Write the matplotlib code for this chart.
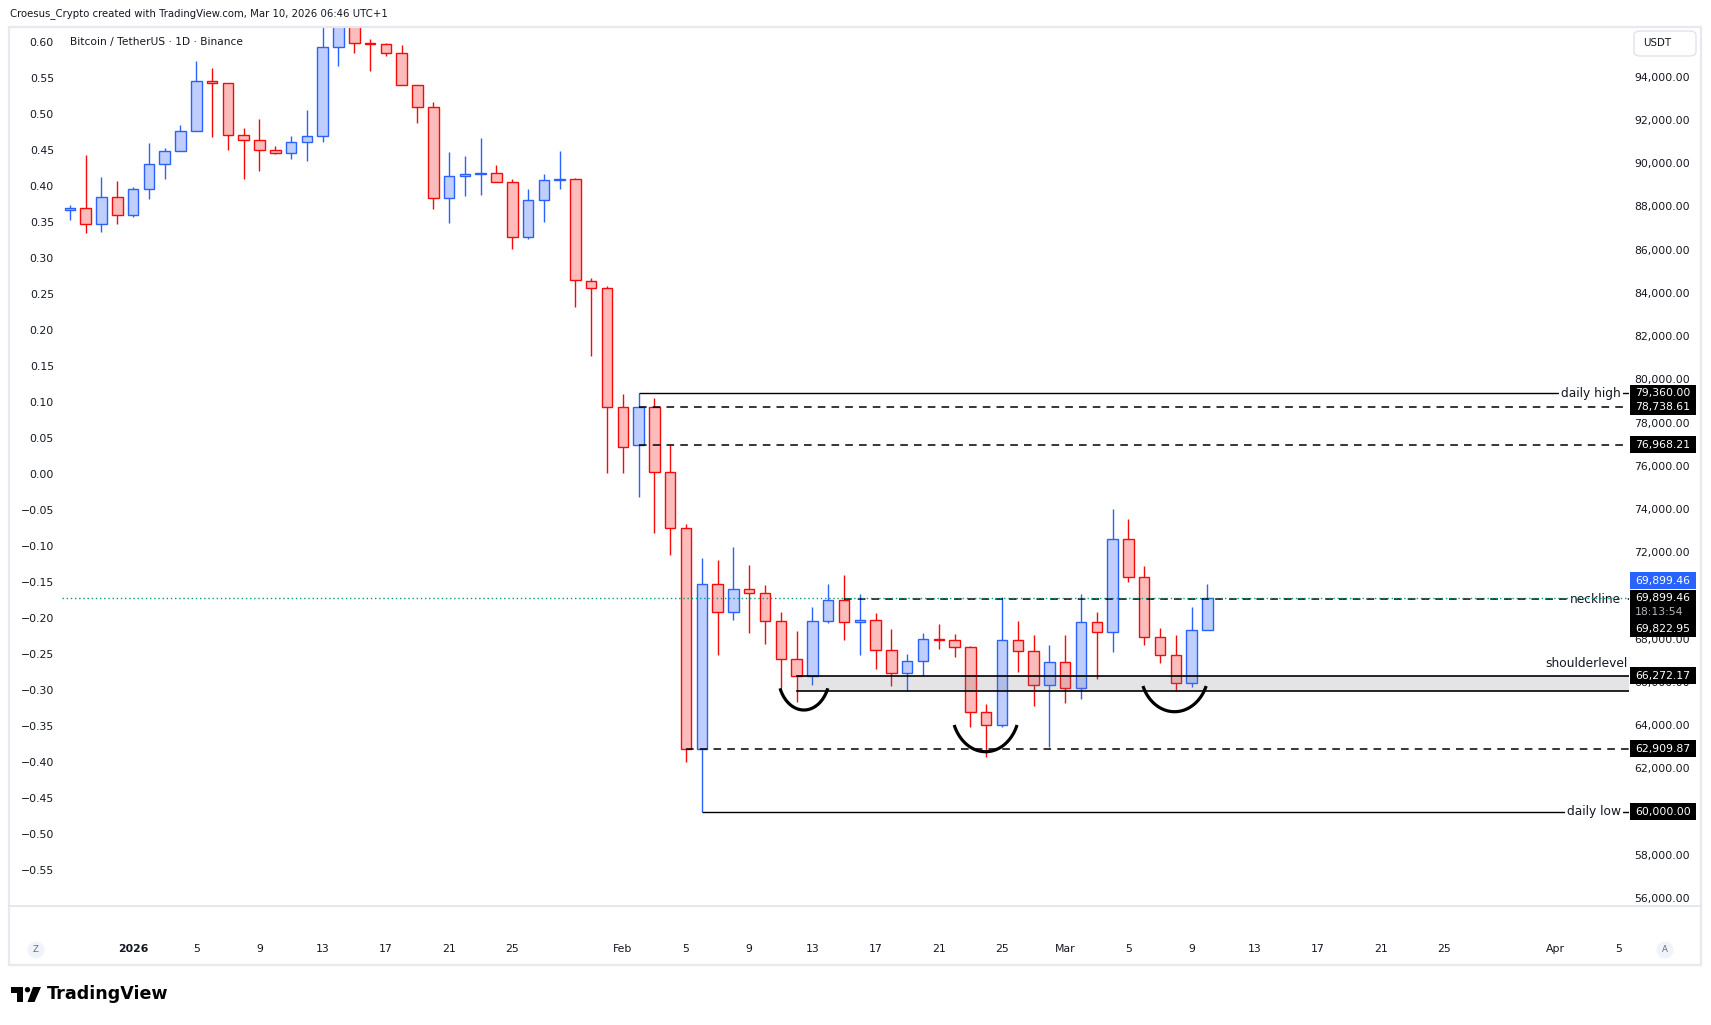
import matplotlib
matplotlib.use("Agg")
import matplotlib.pyplot as plt
import matplotlib.dates as mdates
import numpy as np
import pandas as pd
from matplotlib.patches import Rectangle, FancyBboxPatch, Circle, Polygon
from matplotlib.transforms import blended_transform_factory, IdentityTransform
from matplotlib.ticker import FuncFormatter

plt.rcParams['font.family'] = ['DejaVu Sans']

# ---------------- data ----------------
dates = pd.date_range("2025-12-28", periods=73, freq="D")
opens = [87819, 87911, 87171, 88420, 87587, 88791, 89963, 90549, 91475, 93804,
         93696, 91289, 91058, 90595, 90457, 90965, 91243, 95362, 96900, 95547,
         95500, 95084, 93603, 92585, 88374, 89392, 89500, 89531, 89145, 86600,
         88282, 89207, 89253, 84563, 84211, 78704, 76968.21, 78738, 75697, 73105,
         62910, 70513, 69218, 70282, 70097, 68801, 67043, 66272, 68801, 69787,
         68755, 68848, 67459, 66395, 66950, 67968, 67922, 67598, 64590, 63989,
         67922, 67413, 65840, 66904, 65701, 68755, 68292, 72599, 70837, 68061,
         67228, 65932, 68385]
highs = [88066, 90379, 89361, 89176, 88883, 90935, 90703, 91768, 94729, 94405,
         93696, 91629, 92045, 90796, 91259, 92462, 96800, 97900, 97200, 95747,
         95578, 95470, 93603, 92816, 90518, 90333, 91166, 89917, 89253, 88806,
         89500, 90565, 89300, 84674, 84300, 79300, 79360.00, 79121, 76968, 73290,
         71717, 71640, 72241, 71420, 70482, 69246, 68353, 69478, 70527, 70944,
         70065, 69185, 68446, 67288, 68246, 68677, 68215, 67658, 64975, 69912,
         68815, 68168, 67705, 68168, 70065, 69218, 74003, 73535, 71374, 68507,
         68168, 69478, 70527]
lows = [87371, 86785, 86832, 87202, 87526, 88359, 89284, 90549, 91475, 91228,
        90626, 89284, 89654, 90410, 90210, 90117, 90996, 94513, 95115, 94282,
        94976, 93603, 91876, 87865, 87248, 88498, 88544, 89145, 86045, 86477,
        87294, 88822, 83360, 81092, 75678, 75678, 74568, 72901, 71885, 62305,
        60000.00, 67242, 68876, 68275, 67751, 65701, 65081, 65855, 68709, 67936,
        67242, 66594, 65822, 65590, 66272, 67506, 67163, 63896, 62508, 63896,
        66470, 64896, 63000, 65035, 65206, 66131, 67395, 70634, 67705, 66886,
        65590, 65775, 68385]
closes = [87911, 87171, 88420, 87587, 88791, 89963, 90549, 91475, 93804, 93696,
          91289, 91058, 90595, 90457, 90965, 91243, 95362, 96900, 95547, 95500,
          95084, 93603, 92585, 88374, 89392, 89500, 89531, 89145, 86600, 88282,
          89207, 89253, 84581, 84211, 78704, 76881, 78738.61, 75697, 73105, 62909.87,
          70513, 69218, 70282, 70097, 68801, 67043, 66272.17, 68801, 69787, 68755,
          68848, 67459, 66395, 66950, 67968, 67940, 67598, 64590, 63989, 67922,
          67413, 65840, 66904, 65701, 68755, 68292, 72599, 70837, 68061, 67228,
          65932, 68385, 69899.46]

# horizontal levels drawn on the chart
solid_levels = [79360.00, 60000.00]
solid_starts = ["2026-02-02", "2026-02-06"]
solid_labels = ["daily high", "daily low"]
dashed_levels = [78738.61, 76968.21, 69822.95, 62909.87]
dashed_starts = ["2026-02-02", "2026-02-02", "2026-02-15", "2026-02-05"]
neckline_label = "neckline"
shoulder_top, shoulder_bottom = 66272.17, 65562
shoulder_start = "2026-02-12"
shoulder_label = "shoulderlevel"
last_price = 69899.46
countdown = "18:13:54"

# head & shoulders arcs: centre time, half width (days), rim price, bottom price
arc_centers = ["2026-02-12 11:00", "2026-02-23 23:00", "2026-03-07 22:00"]
arc_halfwidth = [1.51, 1.99, 2.0]
arc_top = [65701, 64003, 65807]
arc_bottom = [64697, 62767, 64618]

right_ticks = list(range(56000, 94001, 2000))
left_ticks = [round(v, 2) for v in np.arange(-0.55, 0.601, 0.05)]

tick_dates = pd.to_datetime([
    "2026-01-01", "2026-01-05", "2026-01-09", "2026-01-13", "2026-01-17", "2026-01-21", "2026-01-25",
    "2026-02-01", "2026-02-05", "2026-02-09", "2026-02-13", "2026-02-17", "2026-02-21", "2026-02-25",
    "2026-03-01", "2026-03-05", "2026-03-09", "2026-03-13", "2026-03-17", "2026-03-21", "2026-03-25",
    "2026-04-01", "2026-04-05"])
tick_labels = ["2026", "5", "9", "13", "17", "21", "25", "Feb", "5", "9", "13", "17", "21", "25",
               "Mar", "5", "9", "13", "17", "21", "25", "Apr", "5"]

header = "Croesus_Crypto created with TradingView.com, Mar 10, 2026 06:46 UTC+1"
title = "Bitcoin / TetherUS \u00b7 1D \u00b7 Binance"

# ---------------- figure ----------------
W, H, DPI = 1711, 1025, 100
fig = plt.figure(figsize=(W / DPI, H / DPI), dpi=DPI)
fig.patch.set_facecolor("white")

def fx(px):
    return px / W

def fy(py):
    return 1 - py / H

PL, PR, PT, PB = 62, 1629, 27, 906
ax = fig.add_axes([fx(PL), fy(PB), (PR - PL) / W, (PB - PT) / H])
ax.set_facecolor("white")
for s in ax.spines.values():
    s.set_visible(False)

jan1 = mdates.date2num(pd.Timestamp("2026-01-01").to_pydatetime())
ax.set_xlim(jan1 - 4.50, jan1 + 94.68)
ax.set_ylim(55627, 96303)

TXT = "#131722"
FS = 7.8

# candles
x = mdates.date2num(dates.to_pydatetime())
o, h, l, c = map(np.asarray, (opens, highs, lows, closes))
up = c >= o
UP_EDGE, UP_FILL = "#2962ff", "#bfcefc"
DN_EDGE, DN_FILL = "#f70a0a", "#fdbcbc"
edge = np.where(up, UP_EDGE, DN_EDGE)
fill = np.where(up, UP_FILL, DN_FILL)
ax.vlines(x, l, h, colors=edge, linewidth=1.0, zorder=2)
ax.bar(x, np.maximum(np.abs(c - o), 1.0), bottom=np.minimum(o, c), width=0.66,
       color=fill, edgecolor=edge, linewidth=1.0, zorder=3)

xr = ax.get_xlim()[1]
# solid levels
for p, s in zip(solid_levels, solid_starts):
    xs = mdates.date2num(pd.Timestamp(s).to_pydatetime())
    ax.plot([xs, xr], [p, p], color="black", linewidth=1.0, zorder=4, solid_capstyle="butt")
# dashed levels
for p, s in zip(dashed_levels, dashed_starts):
    xs = mdates.date2num(pd.Timestamp(s).to_pydatetime())
    ax.plot([xs, xr], [p, p], color="black", linewidth=1.1, linestyle=(0, (5, 4)), zorder=4)

# shoulder zone
xs = mdates.date2num(pd.Timestamp(shoulder_start).to_pydatetime())
ax.add_patch(Rectangle((xs, shoulder_bottom), xr - xs, shoulder_top - shoulder_bottom,
                       facecolor="#787b86", alpha=0.2, edgecolor="none", zorder=4))
for p in (shoulder_top, shoulder_bottom):
    ax.plot([xs, xr], [p, p], color="black", linewidth=1.2, zorder=4)

# arcs
th0 = np.deg2rad(22)
for cen, hw, top, bot in zip(arc_centers, arc_halfwidth, arc_top, arc_bottom):
    cx = mdates.date2num(pd.Timestamp(cen).to_pydatetime())
    rx = hw / np.cos(th0)
    ry = (top - bot) / (1 - np.sin(th0))
    y0 = bot + ry
    t = np.linspace(th0, np.pi - th0, 80)
    ax.plot(cx + rx * np.cos(t), y0 - ry * np.sin(t), color="black", linewidth=2.3,
            zorder=5, solid_capstyle="butt")

# current price line
ax.axhline(last_price, color="#089981", linewidth=1.0, linestyle=(0, (1, 2)), zorder=6)

# line labels
bl = blended_transform_factory(ax.transAxes, ax.transData)
xa = lambda px: (px - PL) / (PR - PL)
for p, lab in zip(solid_levels, solid_labels):
    ax.text(xa(1621), p, lab, transform=bl, ha="right", va="center", fontsize=8.8, color=TXT,
            zorder=5, bbox=dict(facecolor="white", edgecolor="none", pad=1.5))
ax.text(xa(1621), dashed_levels[2], neckline_label, transform=bl, ha="right", va="center",
        fontsize=8.8, color=TXT, zorder=5, bbox=dict(facecolor="white", edgecolor="none", pad=1.5))
ax.annotate(shoulder_label, xy=(xa(1628), shoulder_top), xycoords=bl, xytext=(0, 4.5),
            textcoords="offset points", ha="right", va="bottom", fontsize=8.8, color=TXT, zorder=5)

# right price axis
ax.yaxis.tick_right()
ax.set_yticks(right_ticks)
ax.yaxis.set_major_formatter(FuncFormatter(lambda v, pos: f"{v:,.2f}"))
ax.tick_params(axis="y", length=0, pad=(1690 - PR) * 72 / DPI, labelsize=FS, labelcolor=TXT)
plt.setp(ax.get_yticklabels(), ha="right")

# left percent-like axis
K0, K1 = 75604.0, 33318.0
secax = ax.secondary_yaxis("left", functions=(lambda p: (p - K0) / K1, lambda v: v * K1 + K0))
secax.set_yticks(left_ticks)
secax.yaxis.set_major_formatter(FuncFormatter(lambda v, pos: f"{v:.2f}".replace("-", "\u2212")))
secax.tick_params(axis="y", length=0, pad=(PL - 54) * 72 / DPI, labelsize=FS, labelcolor=TXT)
for s in secax.spines.values():
    s.set_visible(False)

# time axis
ax.set_xticks(mdates.date2num(tick_dates.to_pydatetime()))
ax.set_xticklabels(tick_labels)
ax.tick_params(axis="x", length=0, pad=(944 - PB) * 72 / DPI, labelsize=FS, labelcolor=TXT)
for lbl in ax.get_xticklabels():
    if lbl.get_text() == "2026":
        lbl.set_fontweight("bold")

# ---------------- price boxes on the right axis ----------------
def ypx(price):
    return H - ax.transData.transform((x[0], price))[1]

def box(yc, text, face="black", tcolor="white", hgt=17):
    fig.add_artist(Rectangle((fx(1630), fy(yc + hgt / 2)), 66 / W, hgt / H, transform=fig.transFigure,
                             facecolor=face, edgecolor="none", zorder=5))
    fig.text(fx(1663), fy(yc), text, color=tcolor, ha="center", va="center", fontsize=FS, zorder=6)

for p in (solid_levels[0], dashed_levels[0], dashed_levels[1], shoulder_top, dashed_levels[3], solid_levels[1]):
    box(ypx(p), f"{p:,.2f}")
# blue last price box shifted above, combined stacked box
yl = ypx(last_price)
box(yl - 17, f"{last_price:,.2f}", face="#2962ff")
top_s, bot_s = yl - 8, yl + 39.5
fig.add_artist(Rectangle((fx(1630), fy(bot_s)), 66 / W, (bot_s - top_s) / H, transform=fig.transFigure,
                         facecolor="black", edgecolor="none", zorder=5))
fig.text(fx(1663), fy(yl), f"{last_price:,.2f}", color="white", ha="center", va="center", fontsize=FS, zorder=6)
fig.text(fx(1659), fy(yl + 14), countdown, color="#b2b5be", ha="center", va="center", fontsize=FS, zorder=6)
fig.text(fx(1663), fy(yl + 31), f"{dashed_levels[2]:,.2f}", color="white", ha="center", va="center",
         fontsize=FS, zorder=6)

# ---------------- frame, header and decorations ----------------
fig.add_artist(Rectangle((fx(9), fy(965)), (1701 - 9) / W, (965 - 27) / H, transform=fig.transFigure,
                         facecolor="none", edgecolor="#e8e9ee", linewidth=1.6, zorder=1))
fig.add_artist(plt.Line2D([fx(9), fx(1701)], [fy(PB), fy(PB)], transform=fig.transFigure,
                          color="#e0e3eb", linewidth=1.2))
fig.text(fx(10), fy(14), header, ha="left", va="center", fontsize=7.3, color=TXT)
fig.text(fx(70), fy(42), title, ha="left", va="center", fontsize=7.7, color=TXT)

fig.add_artist(FancyBboxPatch((fx(1634), fy(56)), 62 / W, 25 / H, boxstyle="round,pad=0,rounding_size=0.004",
                              transform=fig.transFigure, facecolor="white", edgecolor="#e0e3eb", linewidth=1.0, zorder=4))
fig.text(fx(1643), fy(43.5), "USDT", ha="left", va="center", fontsize=7.4, color=TXT, zorder=6)

for cxp, letter in ((36, "Z"), (1665, "A")):
    fig.add_artist(Circle((cxp, H - 950), 8.5, transform=IdentityTransform(), facecolor="#f0f3fa",
                          edgecolor="none", zorder=2))
    fig.text(fx(cxp), fy(950), letter, ha="center", va="center", fontsize=6.2, color="#6a6d78", zorder=3)

# TradingView logo
def P(px, py):
    return (px, H - py)

fig.add_artist(Polygon([P(11, 987), P(23, 987), P(23, 1002), P(17, 1002), P(17, 992.5), P(11, 992.5)],
                       closed=True, transform=IdentityTransform(), facecolor="black", edgecolor="none"))
fig.add_artist(Circle(P(27.5, 989.7), 2.7, transform=IdentityTransform(), facecolor="black", edgecolor="none"))
fig.add_artist(Polygon([P(33, 987), P(41, 987), P(34.5, 1002), P(27.5, 1002)], closed=True,
                       transform=IdentityTransform(), facecolor="black", edgecolor="none"))
fig.text(fx(47), fy(994), "TradingView", ha="left", va="center", fontsize=12.6, fontweight="bold", color="black")

fig.savefig("out.png", dpi=DPI, facecolor="white")
